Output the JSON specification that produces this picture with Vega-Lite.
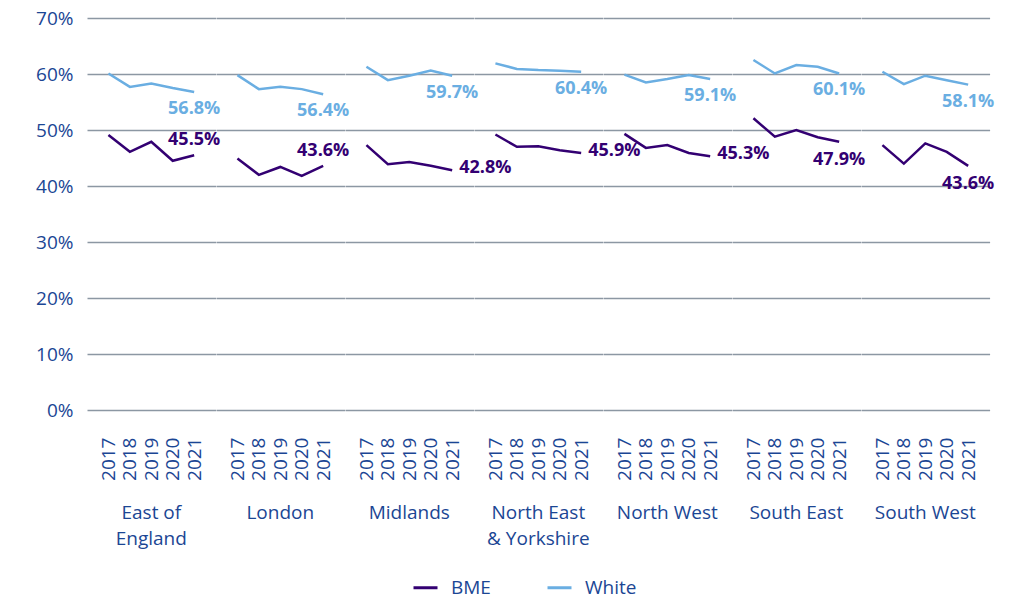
{
  "$schema": "https://vega.github.io/schema/vega-lite/v6.json",
  "padding": {"left": 35, "top": 9, "right": 5, "bottom": 25},
  "background": "white",
  "bounds": "flush",
  "data": {"values": [
    {"region": "East of England", "year": "2017", "group": "BME", "value": 0.491},
    {"region": "East of England", "year": "2018", "group": "BME", "value": 0.461},
    {"region": "East of England", "year": "2019", "group": "BME", "value": 0.479},
    {"region": "East of England", "year": "2020", "group": "BME", "value": 0.445},
    {"region": "East of England", "year": "2021", "group": "BME", "value": 0.455},
    {"region": "East of England", "year": "2017", "group": "White", "value": 0.601},
    {"region": "East of England", "year": "2018", "group": "White", "value": 0.577},
    {"region": "East of England", "year": "2019", "group": "White", "value": 0.583},
    {"region": "East of England", "year": "2020", "group": "White", "value": 0.575},
    {"region": "East of England", "year": "2021", "group": "White", "value": 0.568},
    {"region": "London", "year": "2017", "group": "BME", "value": 0.449},
    {"region": "London", "year": "2018", "group": "BME", "value": 0.420},
    {"region": "London", "year": "2019", "group": "BME", "value": 0.434},
    {"region": "London", "year": "2020", "group": "BME", "value": 0.418},
    {"region": "London", "year": "2021", "group": "BME", "value": 0.436},
    {"region": "London", "year": "2017", "group": "White", "value": 0.598},
    {"region": "London", "year": "2018", "group": "White", "value": 0.573},
    {"region": "London", "year": "2019", "group": "White", "value": 0.577},
    {"region": "London", "year": "2020", "group": "White", "value": 0.573},
    {"region": "London", "year": "2021", "group": "White", "value": 0.564},
    {"region": "Midlands", "year": "2017", "group": "BME", "value": 0.473},
    {"region": "Midlands", "year": "2018", "group": "BME", "value": 0.439},
    {"region": "Midlands", "year": "2019", "group": "BME", "value": 0.443},
    {"region": "Midlands", "year": "2020", "group": "BME", "value": 0.436},
    {"region": "Midlands", "year": "2021", "group": "BME", "value": 0.428},
    {"region": "Midlands", "year": "2017", "group": "White", "value": 0.613},
    {"region": "Midlands", "year": "2018", "group": "White", "value": 0.589},
    {"region": "Midlands", "year": "2019", "group": "White", "value": 0.597},
    {"region": "Midlands", "year": "2020", "group": "White", "value": 0.606},
    {"region": "Midlands", "year": "2021", "group": "White", "value": 0.597},
    {"region": "North East & Yorkshire", "year": "2017", "group": "BME", "value": 0.492},
    {"region": "North East & Yorkshire", "year": "2018", "group": "BME", "value": 0.470},
    {"region": "North East & Yorkshire", "year": "2019", "group": "BME", "value": 0.471},
    {"region": "North East & Yorkshire", "year": "2020", "group": "BME", "value": 0.464},
    {"region": "North East & Yorkshire", "year": "2021", "group": "BME", "value": 0.459},
    {"region": "North East & Yorkshire", "year": "2017", "group": "White", "value": 0.619},
    {"region": "North East & Yorkshire", "year": "2018", "group": "White", "value": 0.609},
    {"region": "North East & Yorkshire", "year": "2019", "group": "White", "value": 0.607},
    {"region": "North East & Yorkshire", "year": "2020", "group": "White", "value": 0.606},
    {"region": "North East & Yorkshire", "year": "2021", "group": "White", "value": 0.604},
    {"region": "North West", "year": "2017", "group": "BME", "value": 0.493},
    {"region": "North West", "year": "2018", "group": "BME", "value": 0.468},
    {"region": "North West", "year": "2019", "group": "BME", "value": 0.473},
    {"region": "North West", "year": "2020", "group": "BME", "value": 0.459},
    {"region": "North West", "year": "2021", "group": "BME", "value": 0.453},
    {"region": "North West", "year": "2017", "group": "White", "value": 0.599},
    {"region": "North West", "year": "2018", "group": "White", "value": 0.585},
    {"region": "North West", "year": "2019", "group": "White", "value": 0.591},
    {"region": "North West", "year": "2020", "group": "White", "value": 0.598},
    {"region": "North West", "year": "2021", "group": "White", "value": 0.591},
    {"region": "South East", "year": "2017", "group": "BME", "value": 0.521},
    {"region": "South East", "year": "2018", "group": "BME", "value": 0.488},
    {"region": "South East", "year": "2019", "group": "BME", "value": 0.500},
    {"region": "South East", "year": "2020", "group": "BME", "value": 0.487},
    {"region": "South East", "year": "2021", "group": "BME", "value": 0.479},
    {"region": "South East", "year": "2017", "group": "White", "value": 0.625},
    {"region": "South East", "year": "2018", "group": "White", "value": 0.601},
    {"region": "South East", "year": "2019", "group": "White", "value": 0.616},
    {"region": "South East", "year": "2020", "group": "White", "value": 0.613},
    {"region": "South East", "year": "2021", "group": "White", "value": 0.601},
    {"region": "South West", "year": "2017", "group": "BME", "value": 0.473},
    {"region": "South West", "year": "2018", "group": "BME", "value": 0.440},
    {"region": "South West", "year": "2019", "group": "BME", "value": 0.476},
    {"region": "South West", "year": "2020", "group": "BME", "value": 0.461},
    {"region": "South West", "year": "2021", "group": "BME", "value": 0.436},
    {"region": "South West", "year": "2017", "group": "White", "value": 0.604},
    {"region": "South West", "year": "2018", "group": "White", "value": 0.582},
    {"region": "South West", "year": "2019", "group": "White", "value": 0.597},
    {"region": "South West", "year": "2020", "group": "White", "value": 0.589},
    {"region": "South West", "year": "2021", "group": "White", "value": 0.581}
  ]},
  "facet": {
    "column": {
      "field": "region",
      "type": "nominal",
      "sort": ["East of England", "London", "Midlands", "North East & Yorkshire", "North West", "South East", "South West"],
      "header": {
        "title": null,
        "labelOrient": "bottom",
        "labelFont": "Open Sans",
        "labelFontSize": 19,
        "labelColor": "#1b4694",
        "labelPadding": 24,
        "labelLineHeight": 26,
        "labelBaseline": "top",
        "labelExpr": "datum.value == 'East of England' ? ['East of', 'England'] : datum.value == 'North East & Yorkshire' ? ['North East', '& Yorkshire'] : datum.value"
      }
    }
  },
  "spacing": 0,
  "spec": {
    "width": 128.6,
    "height": 392,
    "encoding": {
      "x": {
        "field": "year",
        "type": "ordinal",
        "scale": {"type": "point", "padding": 1.5},
        "axis": {
          "title": null,
          "labelAngle": -90,
          "ticks": false,
          "domain": false,
          "labelPadding": 27,
          "labelFont": "Open Sans",
          "labelFontSize": 19,
          "labelFontWeight": 500,
          "labelColor": "#1b4694"
        }
      },
      "y": {
        "field": "value",
        "type": "quantitative",
        "scale": {"domain": [0, 0.7]},
        "axis": {
          "title": null,
          "format": ".0%",
          "values": [0, 0.1, 0.2, 0.3, 0.4, 0.5, 0.6, 0.7],
          "ticks": false,
          "domain": false,
          "labelPadding": 14,
          "labelFont": "Open Sans",
          "labelFontSize": 19,
          "labelFontWeight": 500,
          "labelColor": "#1b4694",
          "gridColor": "#8c97a3",
          "gridWidth": 1.5
        }
      }
    },
    "layer": [
      {
        "mark": {"type": "line", "strokeWidth": 2.5},
        "encoding": {
          "color": {
            "field": "group",
            "type": "nominal",
            "scale": {"domain": ["BME", "White"], "range": ["#330072", "#6aaee2"]},
            "legend": {
              "title": null,
              "orient": "none",
              "direction": "horizontal",
              "legendX": 325,
              "legendY": 556,
              "symbolType": "stroke",
              "symbolSize": 576,
              "symbolStrokeWidth": 3,
              "labelFont": "Open Sans",
              "labelFontSize": 19,
              "labelFontWeight": 500,
              "labelColor": "#1b4694",
              "labelOffset": 12,
              "columnPadding": 50
            }
          }
        }
      },
      {
        "transform": [{"filter": "datum.year == '2021' && datum.group == 'White'"}],
        "mark": {"type": "text", "align": "center", "baseline": "middle", "dy": 17, "font": "Open Sans", "fontSize": 18, "fontWeight": "bold", "color": "#6aaee2"},
        "encoding": {"text": {"field": "value", "type": "quantitative", "format": ".1%"}}
      },
      {
        "transform": [{"filter": "datum.year == '2021' && datum.group == 'BME' && (datum.region == 'East of England' || datum.region == 'London')"}],
        "mark": {"type": "text", "align": "center", "baseline": "middle", "dy": -15, "font": "Open Sans", "fontSize": 18, "fontWeight": "bold", "color": "#330072"},
        "encoding": {"text": {"field": "value", "type": "quantitative", "format": ".1%"}}
      },
      {
        "transform": [{"filter": "datum.year == '2021' && datum.group == 'BME' && (datum.region == 'Midlands' || datum.region == 'North East & Yorkshire' || datum.region == 'North West')"}],
        "mark": {"type": "text", "align": "left", "baseline": "middle", "dx": 7, "dy": -2, "font": "Open Sans", "fontSize": 18, "fontWeight": "bold", "color": "#330072"},
        "encoding": {"text": {"field": "value", "type": "quantitative", "format": ".1%"}}
      },
      {
        "transform": [{"filter": "datum.year == '2021' && datum.group == 'BME' && (datum.region == 'South East' || datum.region == 'South West')"}],
        "mark": {"type": "text", "align": "center", "baseline": "middle", "dy": 18, "font": "Open Sans", "fontSize": 18, "fontWeight": "bold", "color": "#330072"},
        "encoding": {"text": {"field": "value", "type": "quantitative", "format": ".1%"}}
      }
    ]
  },
  "config": {
    "view": {"stroke": null},
    "font": "Open Sans"
  }
}
